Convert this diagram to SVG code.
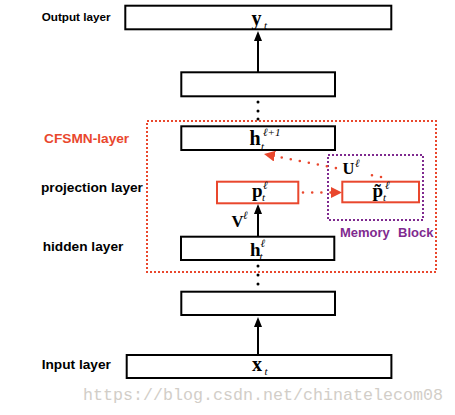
<svg xmlns="http://www.w3.org/2000/svg" width="455" height="415" viewBox="0 0 455 415">
<style>
.box{fill:#fff;stroke:#000;stroke-width:2}
.rbox{fill:#fff;stroke:#e9472d;stroke-width:2}
.lbl{font-family:"Liberation Sans",Arial,sans-serif;font-weight:bold;fill:#000}
.m{font-family:"Liberation Serif","DejaVu Serif",serif;font-weight:bold;font-size:20px;fill:#000}
.s{font-family:"Liberation Serif","DejaVu Serif",serif;font-style:italic;font-weight:normal;font-size:11px;fill:#000}
.arr{stroke:#000;stroke-width:2;fill:none}
.rdot{stroke:#e9472d;stroke-width:2.6;stroke-linecap:round;stroke-dasharray:0 9.2;fill:none}
.dot{fill:#000}
</style>
<defs>
<marker id="ah" markerUnits="userSpaceOnUse" markerWidth="10" markerHeight="8" refX="0" refY="4" orient="auto">
<path d="M0,0 L10,4 L0,8 z" fill="#000"/>
</marker>
<marker id="rah" markerUnits="userSpaceOnUse" markerWidth="11" markerHeight="11" refX="0" refY="5.5" orient="auto">
<path d="M0,0 L11,5.5 L0,11 z" fill="#e9472d"/>
</marker>
</defs>
<rect width="455" height="415" fill="#fff"/>

<g id="cfsmn-frame">
<rect x="147" y="121" width="289" height="151" fill="none" stroke="#e9472d" stroke-width="2" stroke-dasharray="2 2"/>
<text class="lbl" x="44" y="142.5" font-size="13.7" style="fill:#e9472d">CFSMN-layer</text>
</g>

<g id="memory-block">
<rect x="328" y="155" width="95" height="65" fill="none" stroke="#7f2a8f" stroke-width="2" stroke-dasharray="2 2"/>
<text class="lbl" x="340" y="237" font-size="13" style="fill:#7f2a8f">Memory<tspan x="398">Block</tspan></text>
</g>

<g id="output">
<rect class="box" x="125.3" y="5.7" width="266" height="23.6"/>
<text class="lbl" x="41.7" y="21.3" font-size="11.7">Output layer</text>
<text class="m" x="251.5" y="24.5">y<tspan class="s" x="264" y="28.5">t</tspan></text>
</g>

<g id="hidden-top">
<rect class="box" x="181.3" y="72.3" width="153.7" height="24"/>
</g>

<g id="h-next">
<rect class="box" x="181.3" y="126.3" width="153.7" height="23.7"/>
<text class="m" x="249.5" y="145">h<tspan class="s" x="263" y="135.5">ℓ+1</tspan><tspan class="s" x="261" y="149.5">t</tspan></text>
</g>

<g id="projection">
<rect class="rbox" x="217" y="181.7" width="81.3" height="21.6"/>
<text class="lbl" x="41" y="191.5" font-size="13.7">projection layer</text>
<text class="m" x="252" y="196.5" style="font-size:19px">p<tspan class="s" x="263" y="188.5">ℓ</tspan><tspan class="s" x="262" y="201">t</tspan></text>
</g>

<g id="memory">
<rect class="rbox" x="342.3" y="181.7" width="76.7" height="20.6"/>
<text class="m" x="372.5" y="196.5" style="font-size:19px">p̃<tspan class="s" x="385" y="188.5">ℓ</tspan><tspan class="s" x="383" y="200.5">t</tspan></text>
</g>

<g id="hidden">
<rect class="box" x="181" y="236.7" width="153.3" height="23.3"/>
<text class="lbl" x="42.7" y="250.5" font-size="13.7">hidden layer</text>
<text class="m" x="250" y="255.5" style="font-size:19px">h<tspan class="s" x="260.5" y="246.5">ℓ</tspan><tspan class="s" x="259.5" y="259.5">t</tspan></text>
</g>

<g id="hidden-bottom">
<rect class="box" x="181.3" y="291.7" width="153.7" height="23.3"/>
</g>

<g id="input">
<rect class="box" x="126.7" y="355" width="264.7" height="23"/>
<text class="lbl" x="41.7" y="369" font-size="13.7">Input layer</text>
<text class="m" x="252" y="370.5">x<tspan class="s" x="264.5" y="375">t</tspan></text>
</g>

<g id="connectors">
<line class="arr" x1="258" y1="72" x2="258" y2="41" marker-end="url(#ah)"/>
<line class="arr" x1="258" y1="236" x2="258" y2="214" marker-end="url(#ah)"/>
<line class="arr" x1="258" y1="354" x2="258" y2="327" marker-end="url(#ah)"/>
<path class="rdot" d="M303,192.5 L331,192.5" marker-end="url(#rah)"/>
<path class="rdot" d="M381,177 L362.95,173.43"/>
<path class="rdot" d="M335.9,168.08 L274.8,156.1" marker-end="url(#rah)"/>
<circle class="dot" cx="258" cy="102" r="1.5"/>
<circle class="dot" cx="258" cy="111" r="1.5"/>
<circle class="dot" cx="258" cy="119" r="1.5"/>
<circle class="dot" cx="258" cy="266" r="1.5"/>
<circle class="dot" cx="258" cy="275" r="1.5"/>
<circle class="dot" cx="258" cy="284" r="1.5"/>
<text class="m" x="231.5" y="226.5" style="font-size:16.5px">V<tspan class="s" x="243" y="219">ℓ</tspan></text>
<text class="m" x="342.5" y="174" style="font-size:16.5px">U<tspan class="s" x="355" y="166.5">ℓ</tspan></text>
</g>

<text x="83" y="400" font-family="'Liberation Mono','DejaVu Sans Mono',monospace" font-size="17" textLength="360" lengthAdjust="spacingAndGlyphs" fill="#d2cec8">https://blog.csdn.net/chinatelecom08</text>
</svg>
